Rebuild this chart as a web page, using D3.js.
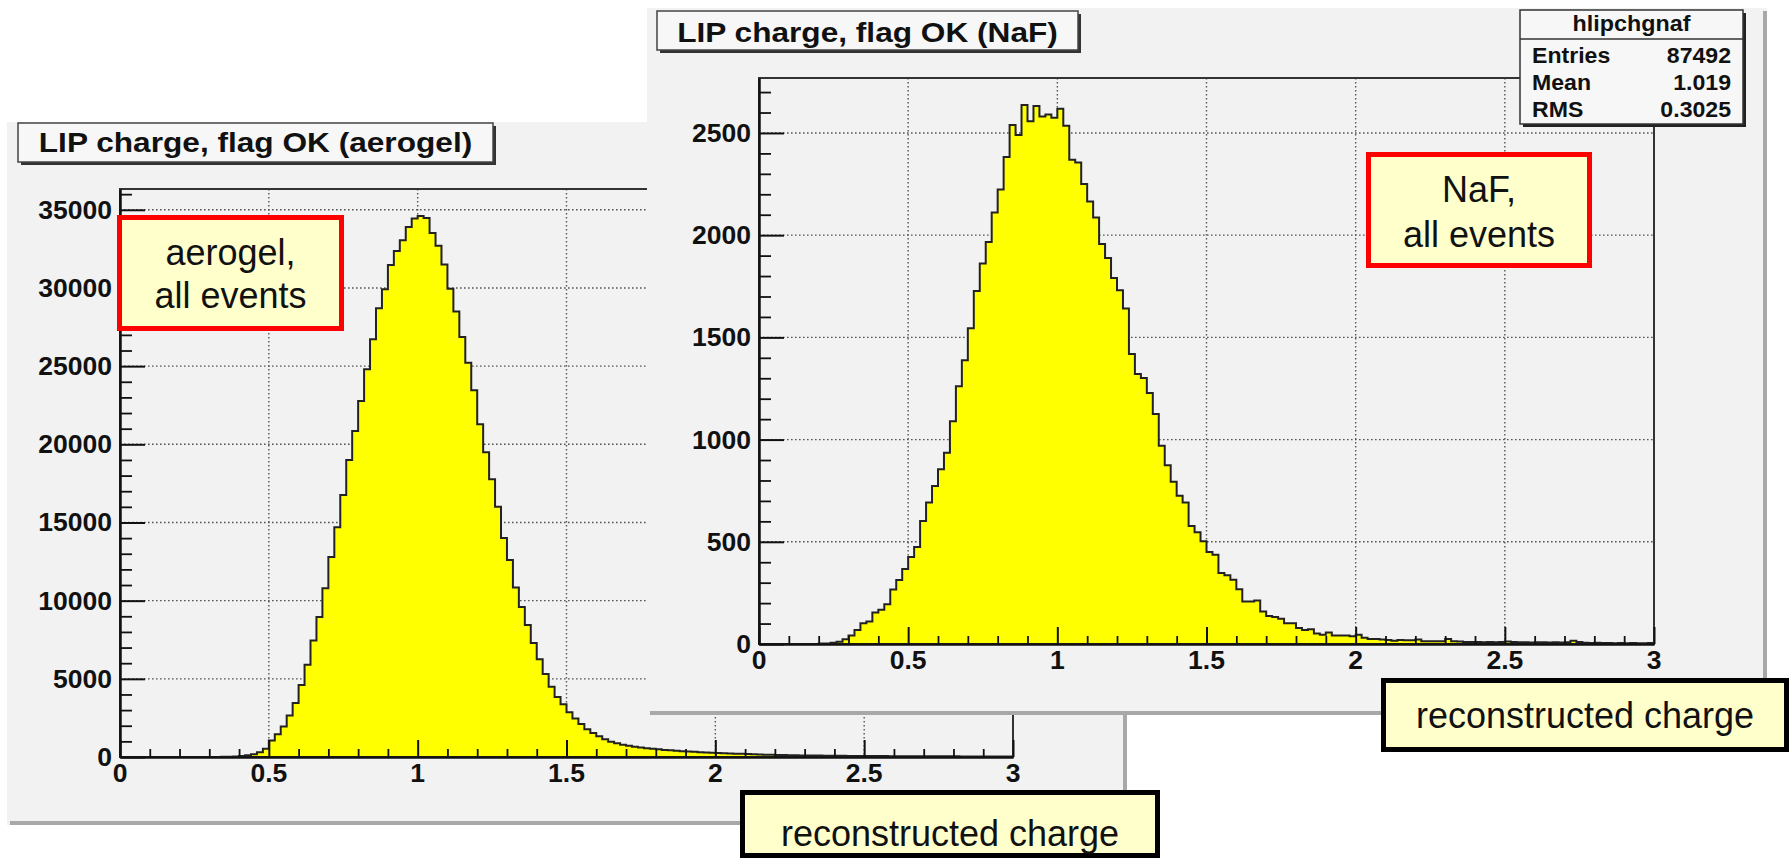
<!DOCTYPE html>
<html>
<head>
<meta charset="utf-8">
<script src="https://cdn.jsdelivr.net/npm/d3@7"></script>
<style>
  body { margin: 0; background: #ffffff; }
  svg { display: block; }
  text { font-family: "Liberation Sans", Arial, Helvetica, sans-serif; fill: #111; }
</style>
</head>
<body>
<svg id="chart" width="1791" height="860"></svg>
<script>
// ---- histogram data: 150 bins of width 0.02 on [0, 3] ----
const binWidth = 0.02;
const xMin = 0, xMax = 3;
const xMajorTicks = [0, 0.5, 1, 1.5, 2, 2.5, 3];
const xTickLabels = ["0", "0.5", "1", "1.5", "2", "2.5", "3"];

// LIP reconstructed charge, aerogel radiator
const aerogelCounts = [
  0, 0, 0, 0, 0, 0, 0, 0, 0, 0,
  0, 0, 0, 0, 0, 5, 8, 12, 20, 35,
  60, 110, 180, 300, 520, 1050, 1450, 1950, 2650, 3450,
  4600, 5900, 7450, 8950, 10800, 12800, 14700, 16750, 19000, 20850,
  22770, 24800, 26720, 28700, 29910, 31470, 32370, 33050, 33900, 34450,
  34600, 34480, 33520, 32700, 31500, 29950, 28500, 26860, 25220, 23450,
  21290, 19500, 17770, 16000, 14000, 12600, 10840, 9600, 8440, 7290,
  6260, 5310, 4500, 3840, 3380, 2860, 2460, 2110, 1780, 1530,
  1320, 1130, 980, 880, 780, 720, 660, 610, 565, 525,
  490, 455, 425, 400, 375, 350, 330, 310, 290, 275,
  260, 245, 230, 215, 200, 185, 172, 160, 150, 140,
  130, 122, 115, 108, 102, 97, 92, 88, 84, 80,
  77, 74, 71, 68, 65, 63, 61, 59, 57, 55,
  53, 52, 50, 49, 47, 46, 45, 44, 43, 42,
  41, 40, 39, 38, 37, 36, 35, 34, 33, 32
];

// LIP reconstructed charge, NaF radiator
const nafCounts = [
  0, 0, 0, 0, 0, 0, 0, 0, 0, 0,
  2, 3, 6, 11, 23, 42, 69, 101, 110, 154,
  168, 195, 267, 313, 367, 425, 475, 602, 692, 773,
  855, 936, 1090, 1261, 1388, 1545, 1727, 1861, 1966, 2111,
  2223, 2382, 2539, 2490, 2637, 2557, 2632, 2580, 2590, 2575,
  2618, 2535, 2369, 2355, 2250, 2165, 2087, 1957, 1888, 1791,
  1731, 1641, 1419, 1321, 1301, 1228, 1125, 970, 875, 794,
  725, 692, 577, 547, 503, 450, 436, 347, 336, 314,
  268, 208, 208, 213, 159, 137, 132, 123, 101, 101,
  78, 69, 72, 51, 45, 56, 42, 42, 42, 38,
  45, 30, 25, 25, 22, 20, 16, 20, 18, 18,
  22, 13, 13, 13, 13, 25, 13, 12, 10, 10,
  10, 9, 10, 9, 10, 12, 10, 8, 8, 7,
  8, 8, 7, 8, 7, 8, 16, 10, 6, 5,
  6, 5, 5, 4, 5, 4, 5, 4, 4, 5
];

const aerogelYTicks = [0, 5000, 10000, 15000, 20000, 25000, 30000, 35000];
const nafYTicks = [0, 500, 1000, 1500, 2000, 2500];

const aerogelTitle = "LIP charge, flag OK (aerogel)";
const nafTitle = "LIP charge, flag OK (NaF)";
const nafStatsName = "hlipchgnaf";
const statsLabels = ["Entries", "Mean", "RMS"];
const nafStatsValues = ["87492", "1.019", "0.3025"];
const aerogelNote = ["aerogel,", "all events"];
const nafNote = ["NaF,", "all events"];
const axisNote = "reconstructed charge";

// ---- drawing ----
const svg = d3.select("#chart");

function label(g, str, x, y, o) {
  return g.append("text")
    .attr("transform", `translate(${x},${y}) scale(${o.sx || 1},1)`)
    .attr("text-anchor", o.anchor || "start")
    .style("font-size", o.size + "px")
    .style("font-weight", o.weight || "normal")
    .text(str);
}

function drawPanel(cfg) {
  const g = svg.append("g");
  const c = cfg.canvas;

  // canvas with darker bevel on the right and bottom
  g.append("rect").attr("x", c.x0).attr("y", c.y0)
    .attr("width", c.x1 - c.x0).attr("height", c.y1 - c.y0).attr("fill", "#f2f2f2");
  g.append("rect").attr("x", c.x1 - 4).attr("y", c.y0 + 3)
    .attr("width", 4).attr("height", c.y1 - c.y0 - 3).attr("fill", "#a8a8a8");
  g.append("rect").attr("x", c.x0 + 3).attr("y", c.y1 - 4)
    .attr("width", c.x1 - c.x0 - 3).attr("height", 4).attr("fill", "#a8a8a8");

  const counts = cfg.counts;
  const x = d3.scaleLinear().domain([xMin, xMax]).range([cfg.fx0, cfg.fx1]);
  const y = d3.scaleLinear().domain([0, 1.05 * d3.max(counts)]).range([cfg.fy0, cfg.fyTop]);

  // dotted grid at major ticks
  const grid = g.append("g").attr("stroke", "#555").attr("stroke-width", 1.4)
    .attr("stroke-dasharray", "1.6,2.4");
  grid.selectAll("line.v").data(xMajorTicks.slice(1, -1)).join("line")
    .attr("x1", d => x(d)).attr("x2", d => x(d))
    .attr("y1", y.range()[1]).attr("y2", y.range()[0]);
  grid.selectAll("line.h").data(cfg.yTicks.slice(1)).join("line")
    .attr("x1", x.range()[0]).attr("x2", x.range()[1])
    .attr("y1", d => y(d)).attr("y2", d => y(d));

  // histogram: bins as step function
  const pts = counts.map((v, i) => [xMin + i * binWidth, v]);
  pts.push([xMax, counts[counts.length - 1]]);
  g.append("path").datum(pts)
    .attr("fill", "#ffff00")
    .attr("d", d3.area().curve(d3.curveStepAfter)
      .x(d => x(d[0])).y0(y(0)).y1(d => y(d[1])));
  g.append("path").datum(pts)
    .attr("fill", "none").attr("stroke", "#222").attr("stroke-width", 2)
    .attr("d", d3.line().curve(d3.curveStepAfter)
      .x(d => x(d[0])).y(d => y(d[1])));

  // frame
  g.append("rect").attr("x", x.range()[0]).attr("y", y.range()[1])
    .attr("width", x.range()[1] - x.range()[0]).attr("height", y.range()[0] - y.range()[1])
    .attr("fill", "none").attr("stroke", "#333").attr("stroke-width", 2);

  // x axis ticks (inward)
  const xMinor = d3.range(0, 31).map(k => k / 10).filter(v => Math.abs(v * 2 - Math.round(v * 2)) > 1e-6);
  g.append("g").attr("transform", `translate(0,${y(0)})`)
    .call(d3.axisBottom(x).tickValues(xMajorTicks).tickSize(-17).tickSizeOuter(0).tickFormat(""))
    .call(s => s.selectAll("line").attr("stroke", "#111").attr("stroke-width", 2))
    .call(s => s.select(".domain").attr("stroke", "#111").attr("stroke-width", 2.5));
  g.append("g").attr("transform", `translate(0,${y(0)})`)
    .call(d3.axisBottom(x).tickValues(xMinor).tickSize(-8).tickSizeOuter(0).tickFormat(""))
    .call(s => s.selectAll("line").attr("stroke", "#111").attr("stroke-width", 1.8))
    .call(s => s.select(".domain").remove());

  // y axis ticks (inward)
  const step = cfg.yTicks[1] / 5;
  const yMinor = d3.range(0, y.domain()[1], step).filter(v => Math.abs(v / cfg.yTicks[1] - Math.round(v / cfg.yTicks[1])) > 1e-6);
  g.append("g").attr("transform", `translate(${x(xMin)},0)`)
    .call(d3.axisLeft(y).tickValues(cfg.yTicks).tickSize(-25).tickSizeOuter(0).tickFormat(""))
    .call(s => s.selectAll("line").attr("stroke", "#111").attr("stroke-width", 2))
    .call(s => s.select(".domain").attr("stroke", "#111").attr("stroke-width", 2.5));
  g.append("g").attr("transform", `translate(${x(xMin)},0)`)
    .call(d3.axisLeft(y).tickValues(yMinor).tickSize(-12).tickSizeOuter(0).tickFormat(""))
    .call(s => s.selectAll("line").attr("stroke", "#111").attr("stroke-width", 1.8))
    .call(s => s.select(".domain").remove());

  // tick labels
  xMajorTicks.forEach((v, i) =>
    label(g, xTickLabels[i], x(v), y(0) + 25, { size: 26, weight: "bold", anchor: "middle", sx: 1.02 }));
  cfg.yTicks.forEach(v =>
    label(g, String(v), x(xMin) - 8, y(v) + 9, { size: 26, weight: "bold", anchor: "end", sx: 1.02 }));

  // title box
  const t = cfg.title;
  g.append("rect").attr("x", t.x0 + 3).attr("y", t.y0 + 3)
    .attr("width", t.x1 - t.x0).attr("height", t.y1 - t.y0).attr("fill", "#333");
  g.append("rect").attr("x", t.x0).attr("y", t.y0)
    .attr("width", t.x1 - t.x0).attr("height", t.y1 - t.y0)
    .attr("fill", "#f7f7f7").attr("stroke", "#444").attr("stroke-width", 1.5);
  label(g, t.text, (t.x0 + t.x1) / 2, t.base, { size: 28.5, weight: "bold", anchor: "middle", sx: 1.11 });

  return g;
}

drawPanel({
  canvas: { x0: 7, y0: 122, x1: 1127, y1: 825 },
  fx0: 120, fx1: 1013, fy0: 757, fyTop: 189,
  counts: aerogelCounts, yTicks: aerogelYTicks,
  title: { x0: 18, y0: 123, x1: 493, y1: 162, base: 152, text: aerogelTitle }
});

const naf = drawPanel({
  canvas: { x0: 647, y0: 8, x1: 1767, y1: 715 },
  fx0: 759, fx1: 1654, fy0: 644, fyTop: 78,
  counts: nafCounts, yTicks: nafYTicks,
  title: { x0: 657, y0: 11, x1: 1078, y1: 50, base: 42, text: nafTitle }
});

// statistics box of the NaF histogram
(function () {
  const b = { x0: 1520, y0: 10, x1: 1743, y1: 124 };
  naf.append("rect").attr("x", b.x0 + 3).attr("y", b.y0 + 3)
    .attr("width", b.x1 - b.x0).attr("height", b.y1 - b.y0).attr("fill", "#222");
  naf.append("rect").attr("x", b.x0).attr("y", b.y0)
    .attr("width", b.x1 - b.x0).attr("height", b.y1 - b.y0)
    .attr("fill", "#f7f7f7").attr("stroke", "#333").attr("stroke-width", 1.5);
  naf.append("line").attr("x1", b.x0).attr("x2", b.x1).attr("y1", 39).attr("y2", 39)
    .attr("stroke", "#333").attr("stroke-width", 1.5);
  label(naf, nafStatsName, (b.x0 + b.x1) / 2, 31, { size: 22, weight: "bold", anchor: "middle", sx: 1.06 });
  const rows = [63, 90, 117];
  statsLabels.forEach((s, i) => {
    label(naf, s, 1532, rows[i], { size: 22, weight: "bold", sx: 1.05 });
    label(naf, nafStatsValues[i], 1731, rows[i], { size: 22, weight: "bold", anchor: "end", sx: 1.05 });
  });
})();

// annotation boxes
const notes = svg.append("g");
function noteBox(b, lines, bases, stroke) {
  notes.append("rect").attr("x", b.x0 + 2.5).attr("y", b.y0 + 2.5)
    .attr("width", b.x1 - b.x0 - 5).attr("height", b.y1 - b.y0 - 5)
    .attr("fill", "#ffffcc").attr("stroke", stroke).attr("stroke-width", 5);
  lines.forEach((s, i) =>
    label(notes, s, (b.x0 + b.x1) / 2, bases[i], { size: 36, anchor: "middle" }));
}
noteBox({ x0: 117, y0: 215, x1: 344, y1: 331 }, aerogelNote, [265, 308], "#ff0000");
noteBox({ x0: 1366, y0: 152, x1: 1592, y1: 268 }, nafNote, [202, 247], "#ff0000");
noteBox({ x0: 1381, y0: 678, x1: 1789, y1: 752 }, [axisNote], [728], "#000000");
noteBox({ x0: 740, y0: 790, x1: 1160, y1: 858 }, [axisNote], [846], "#000000");
</script>
</body>
</html>
